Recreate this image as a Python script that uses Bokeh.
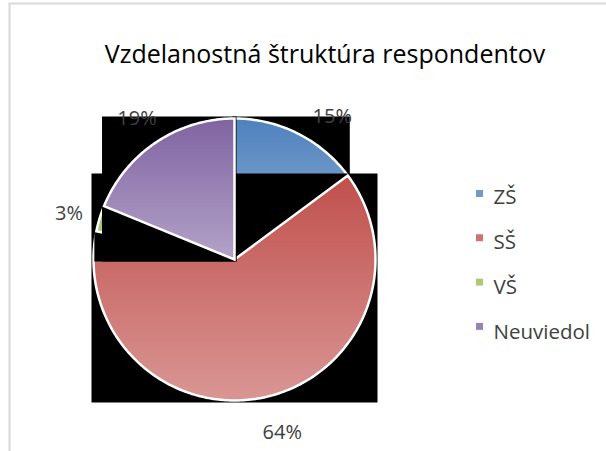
import math
from bokeh.plotting import figure
from bokeh.models import Range1d
from bokeh.embed import file_html
from bokeh.resources import INLINE
from bokeh.core.properties import value

# ---------------- data ----------------
chart_title = "Vzdelanostná štruktúra respondentov"
categories = ["ZŠ", "SŠ", "VŠ", "Neuviedol"]
shares = [15, 64, 3, 19]
pct_labels = ["15%", "64%", "3%", "19%"]
colors = ["#4F81BD", "#C0504D", "#9BBB59", "#8064A2"]

# ---------------- layout ----------------
W, H = 606, 451
CX, CY, R = 234.0, 259.0, 141.0
LABEL_R = 175.0
LABEL_NUDGE = [(19, 12), (10, 1), (2, 4), (0, 3)]
TEXT_DY = -7.0
FONT = "Open Sans"


def hex_rgb(h):
    h = h.lstrip("#")
    return tuple(int(h[i:i + 2], 16) for i in (0, 2, 4))


def mix_white(h, t):
    r, g, b = hex_rgb(h)
    return "#%02x%02x%02x" % (round(r + (255 - r) * t), round(g + (255 - g) * t), round(b + (255 - b) * t))


def clip_half(pts, inside, yc):
    out = []
    n = len(pts)
    for i in range(n):
        cur = pts[i]
        prev = pts[i - 1]
        ci, pi = inside(cur), inside(prev)
        if ci:
            if not pi:
                t = (yc - prev[1]) / (cur[1] - prev[1])
                out.append((prev[0] + t * (cur[0] - prev[0]), yc))
            out.append(cur)
        elif pi:
            t = (yc - prev[1]) / (cur[1] - prev[1])
            out.append((prev[0] + t * (cur[0] - prev[0]), yc))
    return out


def clip_band(pts, y0, y1):
    a = clip_half(pts, lambda q: q[1] >= y0, y0)
    if not a:
        return a
    return clip_half(a, lambda q: q[1] <= y1, y1)


p = figure(width=W, height=H, x_range=Range1d(0, W), y_range=Range1d(H, 0),
           output_backend="svg", toolbar_location=None, min_border=0,
           x_axis_type=None, y_axis_type=None, outline_line_color=None,
           background_fill_color="white", border_fill_color="white")
p.grid.visible = False

# chart frame (top & left edges visible)
p.segment(x0=[9, 8], y0=[2.5, 3], x1=[9, W], y1=[H, 3], line_color="#D9D9D9", line_width=2)

total = float(sum(shares))
start = 90.0
mids = []
for i, s in enumerate(shares):
    sweep = s / total * 360.0
    a0, a1 = start, start - sweep
    mids.append((a0 + a1) / 2.0)
    nstep = max(4, int(sweep / 1.0))
    pts = [(CX, CY)]
    for k in range(nstep + 1):
        a = math.radians(a0 - (a0 - a1) * k / nstep)
        pts.append((CX + R * math.cos(a), CY - R * math.sin(a)))
    xs = [q[0] for q in pts]
    ys = [q[1] for q in pts]
    bx0, bx1, by0, by1 = min(xs), max(xs), min(ys), max(ys)
    # black bounding box artefact
    p.quad(left=[bx0 - 2], right=[bx1 + 2], top=[by0 - 2], bottom=[by1 + 2],
           fill_color="black", line_color=None)
    # gradient bands (slightly overlapping, no stroke)
    bxs, bys, bcs = [], [], []
    y = by0
    step = 2.0
    while y < by1:
        y2 = min(y + step, by1)
        poly = clip_band(pts, y, min(y2 + 0.7, by1))
        if len(poly) >= 3:
            t = 0.4 * ((y + y2) / 2 - by0) / (by1 - by0)
            bxs.append([q[0] for q in poly])
            bys.append([q[1] for q in poly])
            bcs.append(mix_white(colors[i], t))
        y = y2
    p.patches(xs=bxs, ys=bys, fill_color=bcs, line_color=None)
    p.patch(x=xs, y=ys, fill_alpha=0, line_color="white", line_width=2.5, line_join="miter")
    start = a1

# percentage labels
lx, ly = [], []
for i, m in enumerate(mids):
    a = math.radians(m)
    lx.append(CX + LABEL_R * math.cos(a) + LABEL_NUDGE[i][0])
    ly.append(CY - LABEL_R * math.sin(a) + 7 + LABEL_NUDGE[i][1] + TEXT_DY)
p.text(x=lx, y=ly, text=pct_labels, text_font=value(FONT), text_font_size="20px",
       text_color="#404040", text_align="center", text_baseline="alphabetic")

# title
p.text(x=[324.5], y=[59.5 + TEXT_DY], text=[chart_title], text_font=value(FONT), text_font_size="25px",
       text_color="#000000", text_align="center", text_baseline="alphabetic")

# legend
n = len(categories)
p.scatter(x=[479] * n, y=[193 + 44.3 * i for i in range(n)], marker="square", size=7,
          fill_color=[mix_white(c, 0.2) for c in colors], line_color=None)
p.text(x=[493] * n, y=[202 + 45.3 * i + TEXT_DY for i in range(n)], text=categories,
       text_font=value(FONT), text_font_size="20.5px", text_color="#404040",
       text_align="left", text_baseline="alphabetic")

open("out.html", "w").write(file_html(p, INLINE))
